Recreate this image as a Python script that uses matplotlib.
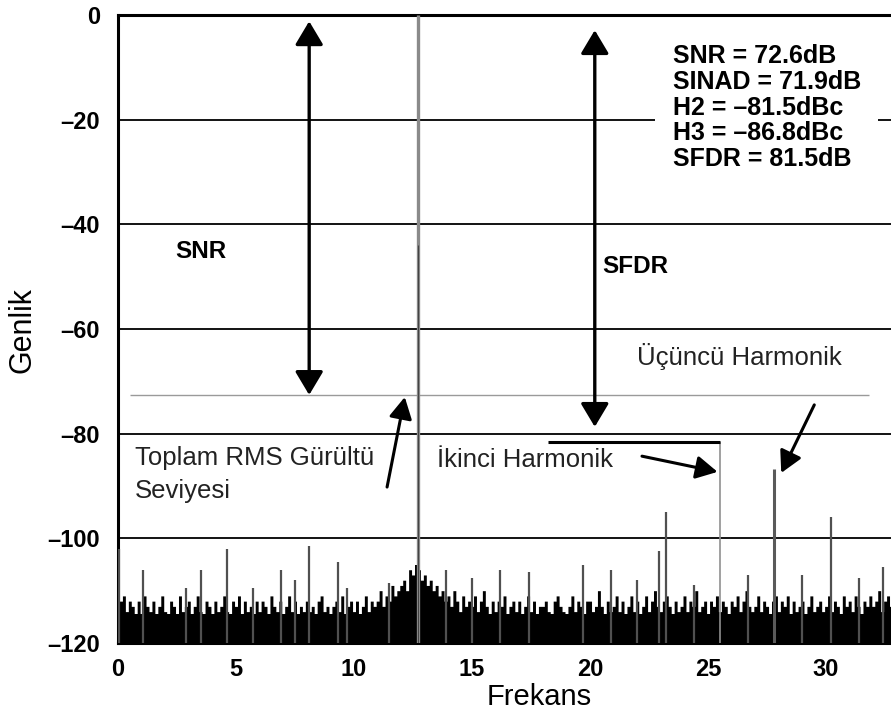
import numpy as np
import matplotlib.pyplot as plt
from matplotlib.patches import Rectangle

plt.rcParams["font.family"] = ["Liberation Sans", "DejaVu Sans"]

# noise floor, one value every 0.125 frequency units (dB)
freq_step = 0.125
noise_base = -114.5
noise_floor = [
    -110, -112, -111, -114, -112, -113, -115, -112,
    -116, -111, -113, -114, -112, -115, -113, -111,
    -114, -116, -112, -113, -115, -111, -114, -113,
    -112, -115, -113, -111, -114, -116, -112, -113,
    -115, -112, -114, -113, -111, -114, -115, -112,
    -113, -111, -115, -112, -114, -113, -116, -112,
    -114, -112, -113, -115, -111, -113, -114, -112,
    -115, -113, -111, -114, -112, -116, -113, -114,
    -112, -114, -113, -115, -112, -111, -114, -113,
    -116, -113, -112, -114, -111, -115, -113, -112,
    -114, -112, -115, -113, -111, -114, -112, -113,
    -112, -110, -113, -111, -112, -109, -111, -110,
    -109, -108, -110, -106, -107, -105, -106, -108,
    -107, -109, -108, -110, -109, -111, -110, -112,
    -111, -113, -110, -112, -114, -111, -113, -112,
    -113, -111, -114, -112, -110, -113, -115, -112,
    -114, -112, -113, -111, -115, -113, -112, -114,
    -112, -115, -113, -111, -114, -112, -116, -113,
    -113, -112, -114, -115, -112, -111, -113, -114,
    -115, -113, -111, -114, -112, -113, -115, -112,
    -112, -114, -113, -110, -113, -115, -112, -114,
    -113, -111, -114, -112, -115, -113, -111, -114,
    -112, -115, -113, -111, -114, -112, -110, -113,
    -114, -112, -111, -113, -115, -112, -114, -113,
    -111, -114, -112, -113, -110, -114, -113, -112,
    -115, -112, -113, -111, -114, -112, -113, -115,
    -112, -113, -111, -114, -112, -110, -113, -114,
    -113, -111, -114, -112, -113, -115, -112, -111,
    -114, -112, -113, -111, -115, -112, -114, -113,
    -112, -115, -113, -111, -114, -113, -112, -114,
    -113, -111, -114, -112, -113, -115, -111, -113,
    -112, -114, -111, -113, -115, -112, -113, -111,
    -113, -112, -110, -114, -112, -111, -113, -112,
]

# spurs sticking out of the noise
spur_freqs = [0.05, 1.05, 2.9, 3.5, 4.6, 5.7, 6.9, 7.5, 8.1, 9.3, 9.7, 11.5,
              13.9, 15.0, 16.2, 17.4, 19.7, 20.9, 22.0, 22.9, 23.2, 24.4,
              26.7, 29.0, 30.2, 31.4, 32.4]
spur_levels = [-102, -106, -109.5, -106, -102, -109.5, -106, -108, -101.5,
               -104.5, -109.5, -108.5, -106, -107.5, -106, -106.5, -105,
               -106, -108, -102.5, -95, -109, -107, -107, -96, -107.5, -105.5]

fund_freq = 12.7
h2_freq, h2_level = 25.5, -81.5
h3_freq, h3_level = 27.8, -86.8
noise_rms = -72.6

stats = ["SNR = 72.6dB", "SINAD = 71.9dB", "H2 = \u201381.5dBc",
         "H3 = \u201386.8dBc", "SFDR = 81.5dB"]

xticks = [0, 5, 10, 15, 20, 25, 30]
yticks = [0, -20, -40, -60, -80, -100, -120]

fig = plt.figure(figsize=(8.91, 7.16), dpi=100)
ax = fig.add_axes([118 / 891, 1 - 643 / 716, 1 - 118 / 891, 628 / 716])
ax.set_xlim(0, 32.75)
ax.set_ylim(-120, 0)

# grid
for y in yticks[1:-1]:
    ax.axhline(y, color="black", lw=1.3, zorder=1)

# noise floor and spurs
noise_freqs = np.arange(len(noise_floor)) * freq_step
ax.axhspan(-120, noise_base, color="black", lw=0, zorder=3)
ax.fill_between(noise_freqs, -120, noise_floor, step="mid",
                color="black", lw=0, zorder=3)
ax.vlines(spur_freqs, -120, spur_levels, color="#505050", lw=1.6, zorder=3)

# fundamental and harmonics
ax.vlines(fund_freq, -120, 0, color="#8a8a8a", lw=2.4, zorder=4)
ax.vlines(fund_freq, -120, -44, color="#444444", lw=0.8, zorder=4)
ax.vlines(h2_freq, -120, h2_level, color="#909090", lw=1.2, zorder=4)
ax.vlines(h3_freq, -120, h3_level, color="#5a5a5a", lw=2.2, zorder=4)
ax.hlines(h2_level, 18.2, h2_freq, color="black", lw=2.2, zorder=4)
ax.hlines(noise_rms, 0.5, 31.8, color="#9a9a9a", lw=1.0, zorder=2)

# stats box
ax.add_patch(Rectangle((22.75, -24.5), 9.45, 21.5, facecolor="white",
                       edgecolor="none", zorder=2))
ax.text(23.5, -5.5, "\n".join(stats), fontsize=18, fontweight="bold",
        va="top", linespacing=1.1, zorder=5)

big = dict(arrowstyle="<|-|>,head_length=0.72,head_width=0.43",
           color="black", lw=2.4, shrinkA=0, shrinkB=0, mutation_scale=20)
small = dict(arrowstyle="-|>,head_length=0.65,head_width=0.35",
             color="black", lw=2.2, shrinkA=0, shrinkB=0, mutation_scale=20)

ax.annotate("", xy=(8.1, -1.2), xytext=(8.1, noise_rms), arrowprops=big, zorder=5)
ax.annotate("", xy=(20.2, -2.9), xytext=(20.2, -78.7), arrowprops=big, zorder=5)
ax.annotate("", xy=(12.15, -73.0), xytext=(11.4, -90.2), arrowprops=small, zorder=5)
ax.annotate("", xy=(25.4, -87.3), xytext=(22.2, -84.3), arrowprops=small, zorder=5)
ax.annotate("", xy=(28.1, -87.5), xytext=(29.5, -74.5), arrowprops=small, zorder=5)

ax.text(3.5, -46.4, "SNR", fontsize=17.5, fontweight="bold", ha="center", va="baseline")
ax.text(20.5, -49.3, "SFDR", fontsize=17.5, fontweight="bold", va="baseline")
ax.text(22.0, -66.9, "Üçüncü Harmonik", fontsize=18.5, va="baseline", color="#222222")
ax.text(13.5, -86.4, "İkinci Harmonik", fontsize=18.5, va="baseline", color="#222222")
ax.text(0.72, -86.0, "Toplam RMS Gürültü", fontsize=18.5, va="baseline", color="#222222")
ax.text(0.72, -92.3, "Seviyesi", fontsize=18.5, va="baseline", color="#222222")

# axes styling
for side in ["left", "top", "bottom"]:
    ax.spines[side].set_linewidth(2.2)
ax.spines["right"].set_visible(False)
ax.set_xticks(xticks)
ax.set_xticklabels([str(t) for t in xticks], fontsize=17, fontweight="bold")
ax.set_yticks(yticks)
ax.set_yticklabels([str(t).replace("-", "\u2013") for t in yticks],
                   fontsize=17, fontweight="bold")
ax.tick_params(axis="x", length=0, pad=11)
ax.tick_params(axis="y", length=0, pad=13)

fig.text(22 / 891, 1 - 330 / 716, "Genlik", rotation=90, fontsize=22,
         ha="center", va="center")
fig.text(539 / 891, 1 - 697 / 716, "Frekans", fontsize=21,
         ha="center", va="center")

fig.savefig("out.png", dpi=100)
